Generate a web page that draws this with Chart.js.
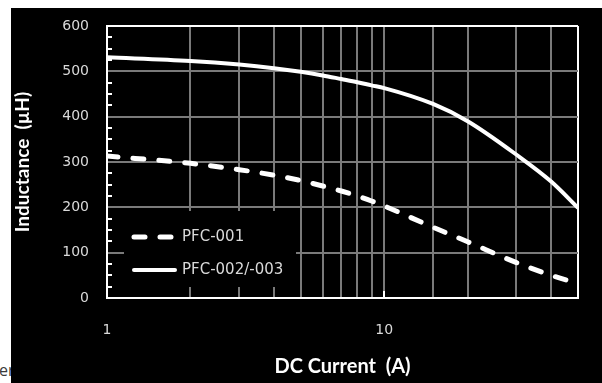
<!DOCTYPE html>
<html>
<head>
<meta charset="utf-8">
<script src="https://cdn.jsdelivr.net/npm/chart.js@4/dist/chart.umd.min.js"></script>
<style>
body{margin:0;background:#fff;width:602px;height:383px;overflow:hidden;position:relative;}
#wrap{position:absolute;left:11px;top:8px;width:591px;height:375px;background:#000;}
#cut{position:absolute;left:-1px;top:359px;font:16px "Open Sans",sans-serif;color:#3a3a3a;}
</style>
</head>
<body>
<span id="cut">er</span>
<div id="wrap"><canvas id="inductanceChart" width="591" height="375"></canvas></div>
<script>

// ================================
// DATA
// ================================

const currents = [1, 2, 3, 4, 5, 6, 7, 8, 9, 10, 15, 20, 30, 40, 50];

const pfc001 = [313, 297, 283, 271, 259, 247, 236, 225, 214, 203, 156, 124, 78, 50, 32];

const pfc002 = [531, 523, 515, 507, 499, 491, 483, 476, 469, 463, 428, 390, 316, 257, 199];

const xLabelTicks = [1, 10];

const yMinorStep = 25;


const tickFont = {family:'"DejaVu Sans", sans-serif', size:14};

const xTitleFont = {family:'Lato, sans-serif', size:20, weight:'bold'};

const yTitleFont = {family:'Lato, sans-serif', size:19, weight:'bold'};


function toPoints(ys){
  return ys.map(function(y, i){ return {x:currents[i], y:y}; });
}


// ================================
// FRAME TICKS + INSIDE LEGEND
// ================================

const extras = {

  id:'extras',

  afterDatasetsDraw(chart){

    const ctx = chart.ctx;
    const area = chart.chartArea;
    const ys = chart.scales.y;
    const xs = chart.scales.x;

    ctx.save();
    ctx.strokeStyle = '#fff';
    ctx.lineWidth = 2;

    // minor ticks on the left frame
    for(let v = ys.min + yMinorStep; v < ys.max; v += yMinorStep){
      if(v % 100 === 0) continue;
      const py = Math.round(ys.getPixelForValue(v));
      ctx.beginPath();
      ctx.moveTo(area.left, py);
      ctx.lineTo(area.left + 5, py);
      ctx.stroke();
    }

    // major ticks on the bottom frame
    xLabelTicks.forEach(function(v){
      const px = Math.round(xs.getPixelForValue(v));
      ctx.beginPath();
      ctx.moveTo(px, area.bottom);
      ctx.lineTo(px, area.bottom - 7);
      ctx.stroke();
    });

    // legend box
    const bx = area.left + 17, by = area.bottom - 87;
    ctx.fillStyle = '#000';
    ctx.fillRect(bx, by, 172, 76);

    chart.data.datasets.forEach(function(ds, i){
      const ly = by + 26 + i * 33;
      ctx.beginPath();
      ctx.lineWidth = ds.borderWidth;
      ctx.lineCap = 'round';
      ctx.setLineDash(ds.borderDash || []);
      ctx.strokeStyle = ds.borderColor;
      ctx.moveTo(bx + 10, ly);
      ctx.lineTo(bx + 51, ly);
      ctx.stroke();
      ctx.setLineDash([]);
      ctx.fillStyle = '#d9d9d9';
      ctx.font = '15px "DejaVu Sans", sans-serif';
      ctx.textBaseline = 'middle';
      ctx.textAlign = 'left';
      ctx.fillText(ds.label, bx + 58, ly);
    });

    ctx.restore();
  }

};


// ================================
// INDUCTANCE VS DC CURRENT
// ================================

const inductance = document.getElementById('inductanceChart');

new Chart(inductance,{

  type:'line',

  data:{
    datasets:[{
      label:'PFC-001',
      data:toPoints(pfc001),
      borderColor:'#fff',
      borderWidth:5,
      borderDash:[11,15],
      borderCapStyle:'round',
      pointRadius:0,
      cubicInterpolationMode:'monotone'
    },{
      label:'PFC-002/-003',
      data:toPoints(pfc002),
      borderColor:'#fff',
      borderWidth:4,
      pointRadius:0,
      cubicInterpolationMode:'monotone'
    }]
  },

  options:{

    responsive:false,
    animation:false,
    devicePixelRatio:1,

    layout:{padding:{top:18, right:23, left:0, bottom:0}},

    plugins:{
      legend:{display:false},
      tooltip:{enabled:false}
    },

    scales:{

      x:{
        type:'logarithmic',
        min:1,
        max:50,
        afterFit(scale){ scale.height = 85; },
        grid:{
          color(c){ return (c.tick.value === 50 || c.tick.value === 1) ? '#fff' : '#7a7a7a'; },
          lineWidth:2,
          drawTicks:false
        },
        border:{color:'#fff', width:2},
        ticks:{
          autoSkip:false,
          maxRotation:0,
          padding:24,
          color:'#d9d9d9',
          font:tickFont,
          callback(v){ return xLabelTicks.indexOf(v) >= 0 ? String(v) : ''; }
        },
        title:{
          display:true,
          text:'DC Current  (A)',
          color:'#fff',
          font:xTitleFont,
          padding:{top:0, bottom:4}
        }
      },

      y:{
        min:0,
        max:600,
        afterFit(scale){
          scale.width = 96;
          scale.paddingTop = 0;
          scale.paddingBottom = 0;
        },
        grid:{
          color(c){ return (c.tick.value === 600 || c.tick.value === 0) ? '#fff' : '#7a7a7a'; },
          lineWidth:2,
          drawTicks:false
        },
        border:{color:'#fff', width:2},
        ticks:{
          stepSize:100,
          padding:18,
          color:'#d9d9d9',
          font:tickFont
        },
        title:{
          display:true,
          text:'Inductance  (µH)',
          color:'#fff',
          font:yTitleFont,
          padding:{top:0, bottom:0}
        }
      }

    }

  },

  plugins:[extras]

});

</script>
</body>
</html>
